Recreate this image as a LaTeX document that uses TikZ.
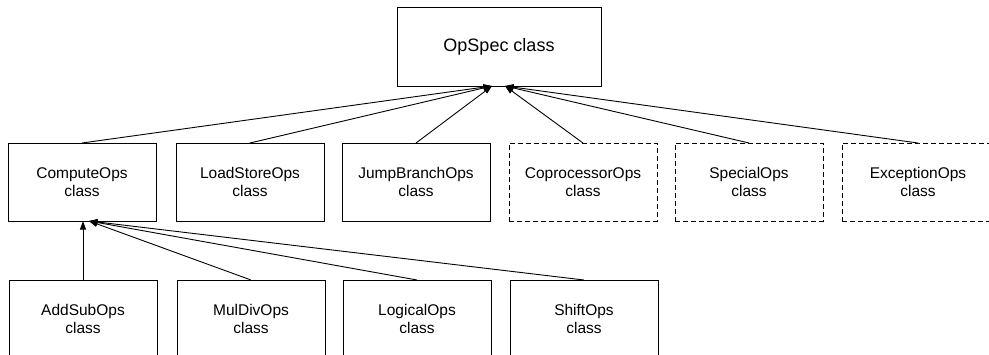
\documentclass[tikz,border=0pt]{standalone}
\usepackage{fontspec}
\setmainfont{Liberation Sans}
\usetikzlibrary{arrows.meta}
\begin{document}
\begin{tikzpicture}[x=1pt,y=-1pt,
 box/.style={draw,line width=0.9pt,minimum width=148pt,minimum height=78pt,inner sep=0pt,outer sep=0pt,align=center,font=\fontsize{15.5}{18}\selectfont},
 dbox/.style={box,dash pattern=on 5pt off 3pt},
 edge/.style={line width=0.9pt,-{Triangle[length=8.5pt,width=6pt]}}]
\useasboundingbox (0,0) rectangle (989,354);
\clip (0,0) rectangle (989,354);
\node[box,minimum width=204pt,minimum height=79pt,font=\fontsize{18}{22}\selectfont] (op) at (499,46.5) {OpSpec class};
\node[box]  (co) at (82,182)  {ComputeOps\\class};
\node[box]  (ls) at (250,182) {LoadStoreOps\\class};
\node[box]  (jb) at (416,182) {JumpBranchOps\\class};
\node[dbox] (cp) at (583,182) {CoprocessorOps\\class};
\node[dbox] (sp) at (749,182) {SpecialOps\\class};
\node[dbox,minimum width=152pt] (ex) at (918,182) {ExceptionOps\\class};
\node[box]  (as) at (83,319)  {AddSubOps\\class};
\node[box]  (md) at (251,319) {MulDivOps\\class};
\node[box]  (lo) at (417,319) {LogicalOps\\class};
\node[box]  (sh) at (584,319) {ShiftOps\\class};
\coordinate (opL) at ([xshift=-7pt]op.south);
\coordinate (opR) at ([xshift=6pt]op.south);
\coordinate (coR) at ([xshift=7pt]co.south);
\draw[edge] (co.north) -- (opL);
\draw[edge] (ls.north) -- (opL);
\draw[edge] (jb.north) -- (opL);
\draw[edge] (cp.north) -- (opR);
\draw[edge] (sp.north) -- (opR);
\draw[edge] (ex.north) -- (opR);
\draw[edge] (as.north) -- (as.north |- co.south);
\draw[edge] (md.north) -- (coR);
\draw[edge] (lo.north) -- (coR);
\draw[edge] (sh.north) -- (coR);
\end{tikzpicture}
\end{document}
